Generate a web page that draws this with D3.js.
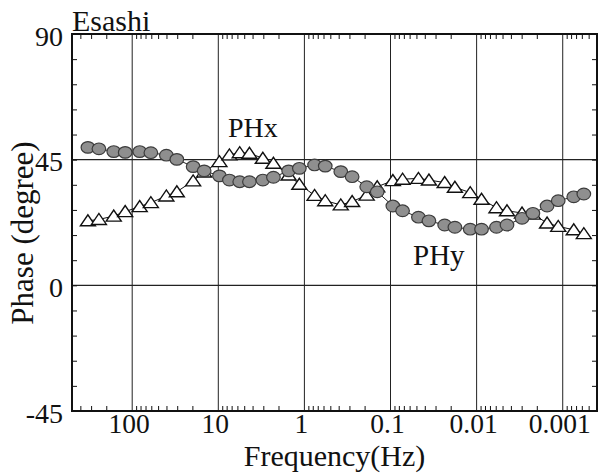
<!DOCTYPE html>
<html>
<head>
<meta charset="utf-8">
<script src="https://cdn.jsdelivr.net/npm/d3@7"></script>
<style>
  html, body { margin: 0; padding: 0; background: #fff; }
  svg { display: block; }
</style>
</head>
<body>
<svg id="chart" width="607" height="476"></svg>
<script>
// ---- data ----
const frequencies = [326.9, 243.5, 163.8, 120.6, 81.8, 60.7, 40.1, 30.3, 19.6, 14.6,
  9.7, 7.43, 5.64, 4.35, 3.04, 2.29, 1.525, 1.145, 0.762, 0.573,
  0.378, 0.279, 0.189, 0.1427, 0.0939, 0.0724, 0.0474, 0.0358, 0.0235, 0.01788,
  0.01187, 0.00877, 0.00588, 0.00444, 0.00297, 0.00222, 0.00152, 0.001128, 0.000745, 0.000569];
const phx = [23.1, 23.6, 24.8, 26.4, 28.2, 29.6, 32.0, 33.5, 37.4, 40.6,
  44.3, 46.7, 47.5, 47.3, 45.5, 43.7, 39.5, 36.2, 32.2, 30.3,
  28.8, 30.0, 32.3, 35.3, 37.5, 38.0, 38.3, 37.7, 36.8, 35.1,
  33.2, 30.8, 27.8, 26.7, 25.9, 25.5, 22.3, 21.1, 19.9, 18.5];
const phy = [49.4, 48.9, 47.9, 47.6, 47.9, 47.5, 46.6, 45.1, 42.5, 41.0,
  39.2, 37.7, 37.1, 37.1, 37.7, 38.7, 41.0, 41.9, 43.1, 42.7,
  40.7, 38.9, 35.3, 33.5, 28.4, 26.7, 24.4, 23.1, 21.6, 20.8,
  20.1, 20.1, 20.8, 21.6, 24.0, 25.8, 28.4, 30.3, 31.7, 32.7];
const xTickValues = [100, 10, 1, 0.1, 0.01, 0.001];
const xTickLabels = ["100", "10", "1", "0.1", "0.01", "0.001"];
const yTickValues = [90, 45, 0, -45];
const yTickLabels = ["90", "45", "0", "-45"];
const yGridValues = [45, 0];
const xDomain = [500, 0.0004];
const yDomain = [-45, 90];

// ---- layout ----
const FONT = "Liberation Serif";
const svg = d3.select("#chart");
const L = 72, R = 597, T = 34, B = 411;
const x = d3.scaleLog().domain(xDomain).range([L, R]);
const y = d3.scaleLinear().domain(yDomain).range([B, T]);

// minor log ticks
const minor = [];
for (let e = -4; e <= 3; e++) {
  for (let m = 2; m <= 9; m++) {
    const v = m * Math.pow(10, e);
    if (v < xDomain[0] && v > xDomain[1]) minor.push(v);
  }
}
const yMinor = d3.range(-45, 91, 9);

// grid lines
const g = svg.append("g");
g.selectAll(".vgrid").data(xTickValues).enter().append("line")
  .attr("x1", d => x(d)).attr("x2", d => x(d))
  .attr("y1", T).attr("y2", B)
  .attr("stroke", "#222").attr("stroke-width", 1);
g.selectAll(".hgrid").data(yGridValues).enter().append("line")
  .attr("x1", L).attr("x2", R)
  .attr("y1", d => y(d)).attr("y2", d => y(d))
  .attr("stroke", "#222").attr("stroke-width", 1.2);

// axes with inward ticks
function styleAxis(sel) {
  sel.select(".domain").remove();
  sel.selectAll(".tick line").attr("stroke", "#111").attr("stroke-width", 1);
  sel.selectAll(".tick text").remove();
}
svg.append("g").attr("transform", `translate(0,${B})`)
  .call(d3.axisBottom(x).tickValues(minor).tickSize(-5).tickFormat(""))
  .call(styleAxis);
svg.append("g").attr("transform", `translate(0,${T})`)
  .call(d3.axisTop(x).tickValues(minor).tickSize(-5).tickFormat(""))
  .call(styleAxis);
svg.append("g").attr("transform", `translate(${L},0)`)
  .call(d3.axisLeft(y).tickValues(yMinor).tickSize(-5).tickFormat(""))
  .call(styleAxis);
svg.append("g").attr("transform", `translate(${R},0)`)
  .call(d3.axisRight(y).tickValues(yMinor).tickSize(-5).tickFormat(""))
  .call(styleAxis);

// frame
svg.append("rect").attr("x", L).attr("y", T).attr("width", R - L).attr("height", B - T)
  .attr("fill", "none").attr("stroke", "#111").attr("stroke-width", 2);

function txt(sel) { return sel.attr("font-family", FONT).attr("fill", "#111"); }

// tick labels
svg.selectAll(".xlab").data(xTickValues).enter().append("text")
  .attr("x", d => x(d) - 3).attr("y", 433)
  .attr("text-anchor", "middle").attr("font-size", 27.5)
  .call(txt)
  .text((d, i) => xTickLabels[i]);
svg.selectAll(".ylab").data(yTickValues).enter().append("text")
  .attr("x", 63).attr("y", d => y(d) + 2)
  .attr("text-anchor", "end").attr("dominant-baseline", "central").attr("font-size", 28)
  .call(txt)
  .text((d, i) => yTickLabels[i]);

// axis titles
svg.append("text").attr("x", (L + R) / 2).attr("y", 466)
  .attr("text-anchor", "middle").attr("font-size", 30).call(txt).text("Frequency(Hz)");
svg.append("text").attr("transform", "translate(33,233) rotate(-90)")
  .attr("text-anchor", "middle").attr("font-size", 31).call(txt).text("Phase (degree)");
svg.append("text").attr("x", 72).attr("y", 31).attr("font-size", 30).call(txt).text("Esashi");

// series
const ptsX = frequencies.map((f, i) => [f, phx[i]]);
const ptsY = frequencies.map((f, i) => [f, phy[i]]);
const line = d3.line().x(d => x(d[0])).y(d => y(d[1]));

const tri = { draw(ctx) { ctx.moveTo(-7.5, 5); ctx.lineTo(7.5, 5); ctx.lineTo(0, -6); ctx.closePath(); } };

svg.append("path").datum(ptsX).attr("d", line)
  .attr("fill", "none").attr("stroke", "#111").attr("stroke-width", 1);
svg.selectAll(".tri").data(ptsX).enter().append("path")
  .attr("transform", d => `translate(${x(d[0])},${y(d[1])})`)
  .attr("d", d3.symbol().type(tri))
  .attr("fill", "#fff").attr("stroke", "#111").attr("stroke-width", 1.4);

svg.append("path").datum(ptsY).attr("d", line)
  .attr("fill", "none").attr("stroke", "#222").attr("stroke-width", 1);
svg.selectAll(".circ").data(ptsY).enter().append("ellipse")
  .attr("cx", d => x(d[0])).attr("cy", d => y(d[1]))
  .attr("rx", 6.8).attr("ry", 5.8)
  .attr("fill", "#8f8f8f").attr("stroke", "#3c3c3c").attr("stroke-width", 1.2);

// series labels
svg.append("text").attr("x", 228).attr("y", 137).attr("font-size", 28).call(txt).text("PHx");
svg.append("text").attr("x", 413).attr("y", 265).attr("font-size", 29).call(txt).text("PHy");
</script>
</body>
</html>
